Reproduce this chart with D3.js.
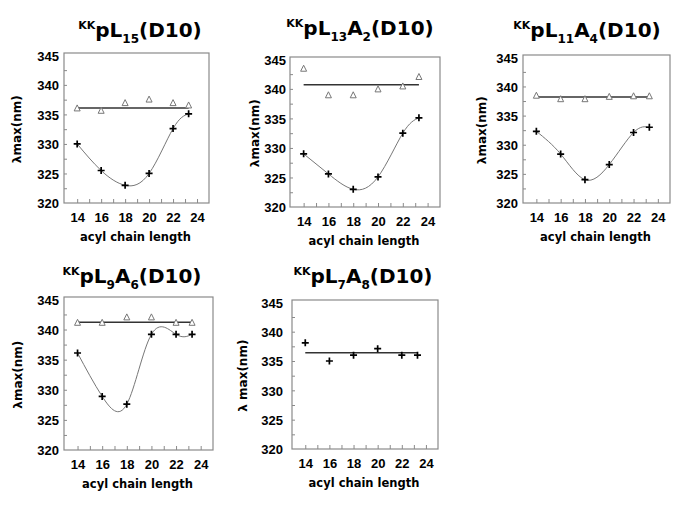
<!DOCTYPE html>
<html>
<head>
<meta charset="utf-8">
<script src="https://cdn.jsdelivr.net/npm/d3@7"></script>
<style>
  body { margin: 0; background: #fff; }
  svg { display: block; font-family: "DejaVu Sans", Verdana, sans-serif; font-weight: bold; }
</style>
</head>
<body>
<svg id="chart" width="680" height="508"></svg>
<script>
// chain lengths (x) and tick labels
const chainLength = [14, 16, 18, 20, 22, 23.3];
const xTicks = [14, 16, 18, 20, 22, 24];
const xMinorTicks = [14, 15, 16, 17, 18, 19, 20, 21, 22, 23, 24];
const yTicks = [320, 325, 330, 335, 340, 345];
const yMinorTicks = [322.5, 325, 327.5, 330, 332.5, 335, 337.5, 340, 342.5];

// lambda max, crosses (+) and triangles, plus the flat level line
const crossL15 = [330, 325.5, 323, 325, 332.6, 335.1];
const triL15 = [336.1, 335.7, 337, 337.6, 337, 336.6];
const levelL15 = 336.1;

const crossL13A2 = [329, 325.6, 323, 325.1, 332.5, 335.1];
const triL13A2 = [343.5, 339, 339, 340, 340.5, 342.1];
const levelL13A2 = 340.7;

const crossL11A4 = [332.3, 328.4, 324, 326.6, 332.1, 333];
const triL11A4 = [338.5, 337.9, 337.9, 338.3, 338.4, 338.4];
const levelL11A4 = 338.2;

const crossL9A6 = [336.1, 328.9, 327.6, 339.2, 339.2, 339.2];
const triL9A6 = [341.2, 341.2, 342.1, 342.1, 341.2, 341.2];
const levelL9A6 = 341.2;

const crossL7A8 = [338.1, 335, 336, 337.1, 336, 336];
const levelL7A8 = 336.4;

const svg = d3.select("#chart");

const panels = [
  {title: [["KK","sup"],["pL","main"],["15","sub"],["(D10)","main"]],
   frame: [64, 53, 145, 150], tx: 140, ty: 37, labX: 17, gap: 5,
   cross: crossL15, tri: triL15, level: levelL15, curve: true, ylab: "λmax(nm)"},
  {title: [["KK","sup"],["pL","main"],["13","sub"],["A","main"],["2","sub"],["(D10)","main"]],
   frame: [290, 57, 150, 150], tx: 360, ty: 35, labX: 255, gap: 4,
   cross: crossL13A2, tri: triL13A2, level: levelL13A2, curve: true, ylab: "λmax(nm)"},
  {title: [["KK","sup"],["pL","main"],["11","sub"],["A","main"],["4","sub"],["(D10)","main"]],
   frame: [523, 55, 147, 148], tx: 587, ty: 37, labX: 482, gap: 5,
   cross: crossL11A4, tri: triL11A4, level: levelL11A4, curve: true, ylab: "λmax(nm)"},
  {title: [["KK","sup"],["pL","main"],["9","sub"],["A","main"],["6","sub"],["(D10)","main"]],
   frame: [64, 297, 149, 153], tx: 132, ty: 283, labX: 18, gap: 5,
   cross: crossL9A6, tri: triL9A6, level: levelL9A6, curve: true, ylab: "λmax(nm)"},
  {title: [["KK","sup"],["pL","main"],["7","sub"],["A","main"],["8","sub"],["(D10)","main"]],
   frame: [292, 300, 146, 149], tx: 363, ty: 283, labX: 243, gap: 9,
   cross: crossL7A8, tri: null, level: levelL7A8, curve: false, ylab: "λ max(nm)"}
];

const shift = {sup: -8, sub: 6, main: 0};
const fsize = {sup: 11, sub: 12, main: 20};

panels.forEach(p => {
  const [fx, fy, fw, fh] = p.frame;
  const x = d3.scaleLinear().domain([12.9, 25]).range([fx, fx + fw]);
  const y = d3.scaleLinear().domain([320, 345.4]).range([fy + fh, fy]);
  const g = svg.append("g");

  // frame
  g.append("rect")
    .attr("x", fx).attr("y", fy).attr("width", fw).attr("height", fh)
    .attr("fill", "none").attr("stroke", "#8a8a8a").attr("stroke-width", 1.2);

  // inward minor ticks
  g.append("g")
    .attr("transform", `translate(${fx},0)`)
    .call(d3.axisRight(y).tickValues(yMinorTicks).tickSize(3).tickFormat(""))
    .call(a => a.select(".domain").remove())
    .call(a => a.selectAll("line").attr("stroke", "#8a8a8a"));
  g.append("g")
    .attr("transform", `translate(0,${fy + fh})`)
    .call(d3.axisTop(x).tickValues(xMinorTicks).tickSize(4).tickFormat(""))
    .call(a => a.select(".domain").remove())
    .call(a => a.selectAll("line").attr("stroke", "#8a8a8a"));

  // tick labels
  g.append("g")
    .attr("transform", `translate(${fx - p.gap},0)`)
    .call(d3.axisLeft(y).tickValues(yTicks).tickSize(0).tickPadding(0))
    .call(a => a.select(".domain").remove())
    .call(a => a.selectAll("text").attr("font-size", 13).attr("font-family", null)
      .attr("fill", "#000").attr("dy", "0.36em"));
  g.append("g")
    .attr("transform", `translate(0,${fy + fh + 10})`)
    .call(d3.axisBottom(x).tickValues(xTicks).tickSize(0).tickPadding(0))
    .call(a => a.select(".domain").remove())
    .call(a => a.selectAll("text").attr("font-size", 13).attr("font-family", null)
      .attr("fill", "#000"));

  // axis titles
  g.append("text")
    .attr("x", fx + fw / 2 - 1).attr("y", fy + fh + 38)
    .attr("text-anchor", "middle").attr("font-size", 11.5)
    .text("acyl chain length");
  g.append("text")
    .attr("transform", `translate(${p.labX + 4},${y(332.5)}) rotate(-90)`)
    .attr("text-anchor", "middle").attr("font-size", 12)
    .text(p.ylab);

  // title
  const t = g.append("text")
    .attr("x", p.tx).attr("y", p.ty).attr("text-anchor", "middle");
  let cur = 0;
  p.title.forEach(([s, role]) => {
    t.append("tspan")
      .attr("dy", shift[role] - cur)
      .attr("font-size", fsize[role])
      .text(s);
    cur = shift[role];
  });

  // flat level line
  g.append("path")
    .datum([chainLength[0], chainLength[chainLength.length - 1]])
    .attr("d", d3.line().x(d => x(d)).y(() => y(p.level)))
    .attr("fill", "none").attr("stroke", "#333").attr("stroke-width", 1.5);

  // smooth curve through crosses
  if (p.curve) {
    g.append("path")
      .datum(chainLength.map((c, i) => [c, p.cross[i]]))
      .attr("d", d3.line().x(d => x(d[0])).y(d => y(d[1])).curve(d3.curveNatural))
      .attr("fill", "none").attr("stroke", "#777").attr("stroke-width", 1);
  }

  // triangles
  if (p.tri) {
    g.selectAll(".tri")
      .data(chainLength.map((c, i) => [c, p.tri[i]]))
      .join("path")
      .attr("class", "tri")
      .attr("d", d => `M${x(d[0])},${y(d[1]) - 3}l3,6h-6z`)
      .attr("fill", "#fff").attr("stroke", "#777").attr("stroke-width", 1);
  }

  // crosses
  g.selectAll(".cross")
    .data(chainLength.map((c, i) => [c, p.cross[i]]))
    .join("path")
    .attr("class", "cross")
    .attr("d", d => `M${x(d[0]) - 3.5},${y(d[1])}h7M${x(d[0])},${y(d[1]) - 3.5}v7`)
    .attr("stroke", "#000").attr("stroke-width", 1.7);
});
</script>
</body>
</html>
